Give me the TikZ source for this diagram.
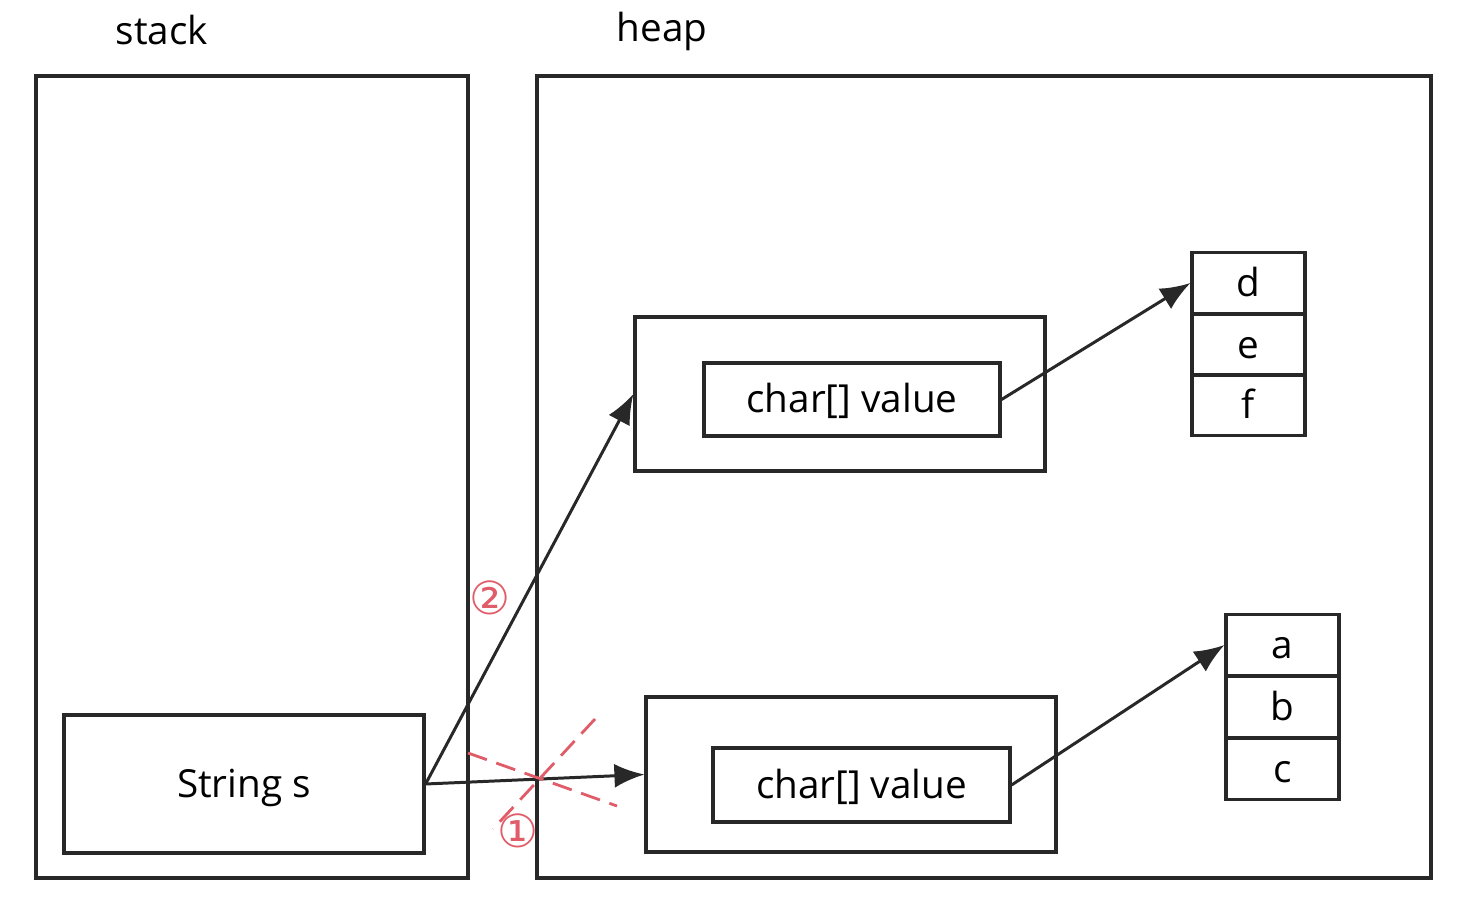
\documentclass[tikz,border=0pt]{standalone}
\usepackage{fontspec}
\setmainfont{Open Sans}
\newfontfamily\symfont{DejaVu Sans}
\usetikzlibrary{arrows.meta}
\definecolor{markred}{RGB}{224,92,104}
\definecolor{linegray}{RGB}{40,40,40}
\tikzset{
  memarea/.style={draw=linegray,line width=0.9pt},
  box/.style={draw=linegray,line width=0.9pt,inner sep=0pt,text height=0.75em,text depth=0pt,
    font=\fontsize{11}{13}\selectfont},
  cell/.style={box,minimum width=1.13cm,minimum height=0.617cm},
  ref/.style={-{Latex[length=3mm,width=2.4mm]},draw=linegray,line width=0.85pt},
  cross/.style={draw=markred,line width=0.8pt,dash pattern=on 2mm off 1mm},
  stepmark/.style={text=markred,inner sep=0pt,font=\symfont\fontsize{13}{15}\selectfont}
}
\begin{document}
\begin{tikzpicture}
  \useasboundingbox (0,0) rectangle (14.61,9.01);

  % Memory areas
  \draw[memarea] (0.36,0.23) rectangle (4.68,8.25);
  \draw[memarea] (5.37,0.23) rectangle (14.31,8.25);
  \node[font=\fontsize{11}{13}\selectfont] (stacklbl) at (1.62,8.71) {stack};
  \node[font=\fontsize{11}{13}\selectfont] (heaplbl) at (6.62,8.70) {heap};

  % Stack variable
  \node[box,minimum width=3.60cm,minimum height=1.38cm] (strs) at (2.44,1.17) {String s};

  % String objects
  \node[box,minimum width=4.10cm,minimum height=1.54cm] (upout) at (8.40,5.07) {};
  \node[box,minimum width=2.96cm,minimum height=0.73cm] (upin) at (8.52,5.015) {char[] value};
  \node[box,minimum width=4.10cm,minimum height=1.55cm] (lowout) at (8.51,1.265) {};
  \node[box,minimum width=2.97cm,minimum height=0.74cm] (lowin) at (8.615,1.16) {char[] value};

  % Char arrays
  \node[cell] (celld) at (12.485,6.18) {d};
  \node[cell] (celle) at (12.485,5.56) {e};
  \node[cell] (cellf) at (12.485,4.96) {f};
  \node[cell] (cella) at (12.825,2.56) {a};
  \node[cell] (cellb) at (12.825,1.94) {b};
  \node[cell] (cellc) at (12.825,1.32) {c};

  % References
  \draw[ref] (strs.east) -- (lowout.west);
  \draw[ref] (strs.east) -- (upout.west);
  \draw[ref] (upin.east) -- (celld.west);
  \draw[ref] (lowin.east) -- (cella.west);

  % Broken reference
  \coordinate (crossa) at (4.68,1.48);
  \coordinate (crossb) at (6.17,0.95);
  \coordinate (crossc) at (5.95,1.82);
  \coordinate (crossd) at (4.93,0.72);
  \draw[cross] (crossa) -- (crossb);
  \draw[cross] (crossc) -- (crossd);
  \node[stepmark] (one) at (5.18,0.70) {①};
  \node[stepmark] (two) at (4.90,3.03) {②};
\end{tikzpicture}
\end{document}
